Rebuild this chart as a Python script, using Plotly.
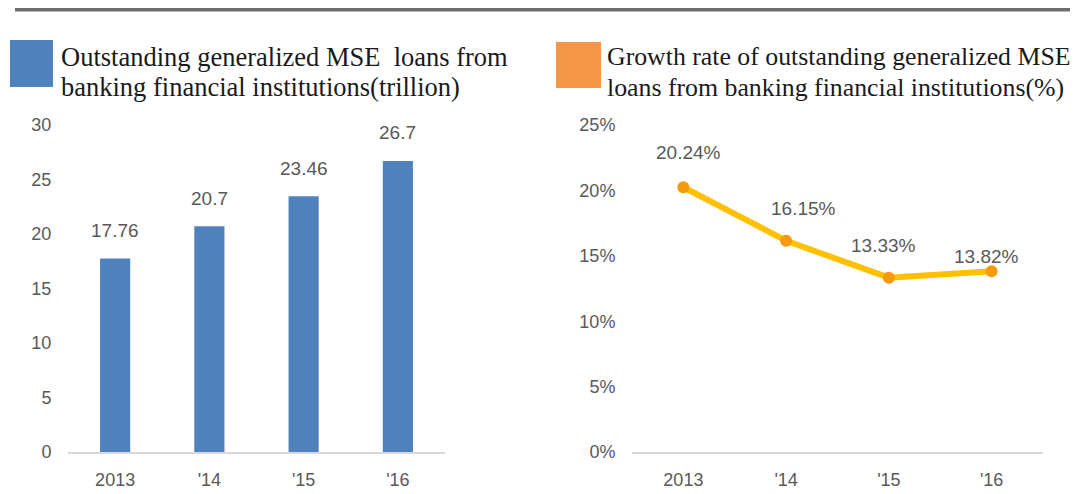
import plotly.graph_objects as go

W, H = 1085, 494
OFF = 8  # page body margin of the html page

categories = ["2013", "'14", "'15", "'16"]
loans_trillion = [17.76, 20.7, 23.46, 26.7]
loan_labels = ["17.76", "20.7", "23.46", "26.7"]
growth_rate = [0.2024, 0.1615, 0.1333, 0.1382]
growth_labels = ["20.24%", "16.15%", "13.33%", "13.82%"]
left_title = ["Outstanding generalized MSE  loans from", "banking financial institutions(trillion)"]
right_title = ["Growth rate of outstanding generalized MSE", "loans from banking financial institutions(%)"]


def px_x(p):
    return (p - OFF) / W


def px_y(p):
    return 1 - (p - OFF) / H


BLUE = "#4F81BD"
ORANGE = "#F79646"
LINE = "#FFC000"
MARK = "#F59A0A"
TXT = "#595959"
AXIS = "#D9D9D9"
SANS = "Liberation Sans, Arial, sans-serif"
SERIF = "Liberation Serif, Times New Roman, serif"

fig = go.Figure()

fig.add_trace(go.Bar(
    x=categories, y=loans_trillion, marker_color=BLUE, marker_line_width=0,
    xaxis="x", yaxis="y", showlegend=False, hoverinfo="skip",
))
fig.add_trace(go.Scatter(
    x=categories, y=growth_rate, mode="lines+markers",
    line=dict(color=LINE, width=6), marker=dict(color=MARK, size=12),
    xaxis="x2", yaxis="y2", showlegend=False, hoverinfo="skip",
))

annotations = []
for i, (v, t) in enumerate(zip(loans_trillion, loan_labels)):
    annotations.append(dict(x=i, y=v, xref="x", yref="y", text=t, showarrow=False,
                            yanchor="middle", yshift=28,
                            font=dict(family=SANS, size=19, color=TXT)))
line_yshifts = [35, 32, 32, 15]
line_xshifts = [5, 17, -5, -5]
for i, (v, t, s, xs) in enumerate(zip(growth_rate, growth_labels, line_yshifts, line_xshifts)):
    annotations.append(dict(x=i, y=v, xref="x2", yref="y2", text=t, showarrow=False,
                            yanchor="middle", yshift=s, xshift=xs,
                            font=dict(family=SANS, size=19, color=TXT)))

for x0, lines, fs in ((59, left_title, 26.5), (605, right_title, 25.8)):
    for yc, line in zip((57, 87), lines):
        annotations.append(dict(x=px_x(x0), y=px_y(yc), xref="paper", yref="paper", text=line,
                                showarrow=False, xanchor="left", yanchor="middle", align="left",
                                font=dict(family=SERIF, size=fs, color="#1a1a1a")))

shapes = [
    dict(type="line", xref="paper", yref="paper", x0=px_x(15), x1=px_x(1070),
         y0=px_y(9.5), y1=px_y(9.5), line=dict(color="#6E6E6E", width=4)),
    dict(type="rect", xref="paper", yref="paper", x0=px_x(10), x1=px_x(53),
         y0=px_y(87), y1=px_y(40), fillcolor=BLUE, line=dict(width=0)),
    dict(type="rect", xref="paper", yref="paper", x0=px_x(556), x1=px_x(601),
         y0=px_y(88), y1=px_y(42), fillcolor=ORANGE, line=dict(width=0)),
]

xaxis_common = dict(type="category", range=[-0.5, 3.5], showgrid=False, showline=True,
                    linecolor=AXIS, linewidth=2,
                    ticks="outside", ticklen=10, tickcolor="rgba(0,0,0,0)",
                    tickfont=dict(family=SANS, size=18, color=TXT), zeroline=False,
                    fixedrange=True)
yaxis_common = dict(showgrid=False, showline=False, zeroline=False,
                    ticks="outside", ticklen=12, tickcolor="rgba(0,0,0,0)",
                    tickfont=dict(family=SANS, size=18, color=TXT), fixedrange=True)

ydom = [px_y(452), px_y(125)]

fig.update_layout(
    width=W, height=H,
    margin=dict(l=0, r=0, t=0, b=0, autoexpand=False),
    paper_bgcolor="white", plot_bgcolor="white",
    bargap=0.68,
    xaxis=dict(domain=[px_x(68), px_x(445)], anchor="y", **xaxis_common),
    yaxis=dict(domain=ydom, range=[0, 30], dtick=5, anchor="x", **yaxis_common),
    xaxis2=dict(domain=[px_x(632), px_x(1043)], anchor="y2", **xaxis_common),
    yaxis2=dict(domain=ydom, range=[0, 0.25], dtick=0.05, tickformat=".0%", anchor="x2",
                **yaxis_common),
    annotations=annotations,
    shapes=shapes,
)

fig.write_html("out.html")
